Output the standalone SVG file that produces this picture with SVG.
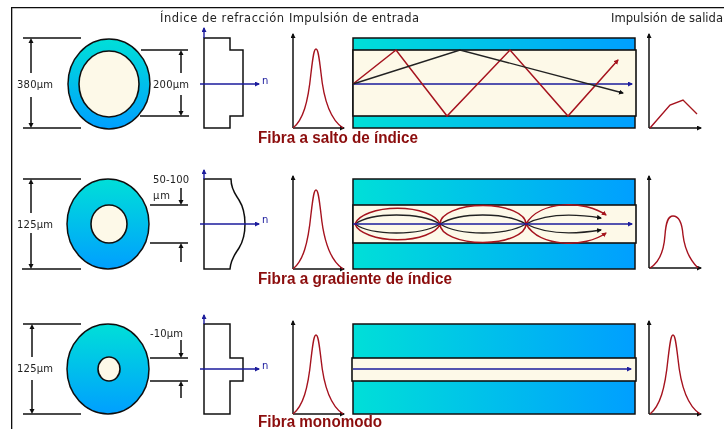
<svg xmlns="http://www.w3.org/2000/svg" width="724" height="429" viewBox="0 0 724 429">
<style>
.ln{fill:none;stroke:#111;stroke-width:1.5}
.dim{fill:none;stroke:#111;stroke-width:1.5}
.ax{fill:none;stroke:#111;stroke-width:1.5;marker-end:url(#k)}
.n{fill:none;stroke:#1a1a9c;stroke-width:1.4;marker-end:url(#b)}
.pulse{fill:none;stroke:#a5121e;stroke-width:1.4}
.clad{stroke:#111;stroke-width:1.5}
.core{fill:#fdf9e8;stroke:#111;stroke-width:1.6}
.red{fill:none;stroke:#a5121e;stroke-width:1.5}
.blk{fill:none;stroke:#222;stroke-width:1.4}
text{font-family:"DejaVu Sans",sans-serif;fill:#222}
.h{font-size:11.5px}
.d{font-size:10px}
.nl{font-size:10px;fill:#1a1a9c}
.t{font-family:"Liberation Sans",Arial,sans-serif;font-weight:bold;font-size:16px;fill:#8b0a0a}
</style>
<defs>
<marker id="k" markerWidth="6" markerHeight="6" refX="4" refY="2.5" orient="auto" markerUnits="userSpaceOnUse"><path d="M0 0L5 2.5L0 5z" fill="#111"/></marker>
<marker id="b" markerWidth="6" markerHeight="6" refX="4" refY="2.5" orient="auto" markerUnits="userSpaceOnUse"><path d="M0 0L5 2.5L0 5z" fill="#1a1a9c"/></marker>
<marker id="r" markerWidth="6" markerHeight="6" refX="4" refY="2.5" orient="auto" markerUnits="userSpaceOnUse"><path d="M0 0L5 2.5L0 5z" fill="#a5121e"/></marker>
<linearGradient id="gv" x1="0" y1="0" x2="0" y2="1"><stop offset="0" stop-color="#00dfd8"/><stop offset="1" stop-color="#009fff"/></linearGradient>
<linearGradient id="gh" x1="0" y1="0" x2="1" y2="0"><stop offset="0" stop-color="#00dfd8"/><stop offset="1" stop-color="#009fff"/></linearGradient>
<filter id="soft" x="0" y="0" width="100%" height="100%"><feGaussianBlur stdDeviation="0.45"/></filter>
<path id="pk" d="M0 0C10 -8 15 -25 18 -55C20 -72 21 -79 23 -79C25 -79 26 -72 28 -55C31 -25 38 -8 50 0"/>
</defs>
<rect width="724" height="429" fill="#fff"/>
<g filter="url(#soft)">
<path id="frame" d="M11 429V7H724" fill="none" stroke="#111" stroke-width="2.6"/>

<g id="headers">
<text class="h" x="160" y="22" textLength="124">Índice de refracción</text>
<text class="h" x="289" y="22" textLength="130">Impulsión de entrada</text>
<text class="h" x="611" y="22" textLength="112" lengthAdjust="spacingAndGlyphs">Impulsión de salida</text>
</g>

<g id="fiber-step-section">
<ellipse class="clad" cx="109" cy="84" rx="41" ry="45" fill="url(#gv)"/>
<ellipse class="core" cx="109" cy="84" rx="30" ry="33"/>
</g>
<g id="fiber-step-dims">
<path class="dim" d="M23 38H81M23 128H81M141 50H188M140 116H189"/>
<path class="dim" d="M31 73V40M31 97V126M181 73V52M181 95V114"/>
<path d="M31 38l-2.5 5h5zM31 128l-2.5 -5h5zM181 50l-2.5 5h5zM181 116l-2.5 -5h5z" fill="#111"/>
<text class="d" x="17" y="88" textLength="36">380µm</text>
<text class="d" x="153" y="88" textLength="36">200µm</text>
</g>
<g id="fiber-step-index">
<path class="ln" d="M204 38H230V50H243V116H230V128H204Z"/>
<path class="n" d="M204 38V28"/>
<path class="n" d="M200 84H259" stroke-width="1.8"/>
<text class="nl" x="262" y="84">n</text>
</g>
<g id="fiber-step-input">
<path class="ax" d="M293 128V34"/><path class="ax" d="M293 128H344"/>
<use href="#pk" class="pulse" x="293" y="128"/>
</g>
<g id="fiber-step-guide">
<rect class="clad" x="353" y="38" width="282" height="90" fill="url(#gh)"/>
<rect class="core" x="353" y="50" width="283" height="66"/>
</g>
<g id="fiber-step-output">
<path class="ax" d="M649 128V34"/><path class="ax" d="M649 128H701"/>
<path class="pulse" d="M650 128L670 105L683 100L697 114"/>
</g>
<text id="label-step" class="t" x="258" y="143" textLength="160" lengthAdjust="spacingAndGlyphs">Fibra a salto de índice</text>

<g id="fiber-graded-section">
<ellipse class="clad" cx="108" cy="224" rx="41" ry="45" fill="url(#gv)"/>
<ellipse class="core" cx="109" cy="224" rx="18" ry="19"/>
</g>
<g id="fiber-graded-dims">
<path class="dim" d="M23 179H81M22 269H81M150 205H188M150 243H188"/>
<path class="dim" d="M31 213V181M31 233V267M181 188V203M181 262V245"/>
<path d="M31 179l-2.5 5h5zM31 269l-2.5 -5h5zM181 205l-2.5 -5h5zM181 243l-2.5 5h5z" fill="#111"/>
<text class="d" x="17" y="228" textLength="36">125µm</text>
<text class="d" x="153" y="183" textLength="36">50-100</text>
<text class="d" x="153" y="199" textLength="17">µm</text>
</g>
<g id="fiber-graded-index">
<path class="ln" d="M204 179H231C231 190 236 195 239 200C244 208 245 215 245 224C245 233 244 240 239 248C236 253 231 258 230 269H204Z"/>
<path class="n" d="M204 179V170"/>
<path class="n" d="M200 224H259"/>
<text class="nl" x="262" y="223">n</text>
</g>
<g id="fiber-graded-input">
<path class="ax" d="M293 269V176"/><path class="ax" d="M293 269H344"/>
<use href="#pk" class="pulse" x="293" y="269"/>
</g>
<g id="fiber-graded-guide">
<rect class="clad" x="353" y="179" width="282" height="90" fill="url(#gh)"/>
<rect class="core" x="353" y="205" width="283" height="38"/>
</g>
<g id="fiber-graded-output">
<path class="ax" d="M649 268V176"/><path class="ax" d="M649 268H701"/>
<path class="pulse" d="M650 268C660 262 664 250 665 235C666 222 668 216 673 216C679 216 682 222 683 235C685 252 692 262 698 268"/>
</g>
<text id="label-graded" class="t" x="258" y="284" textLength="194" lengthAdjust="spacingAndGlyphs">Fibra a gradiente de índice</text>

<g id="fiber-mono-section">
<ellipse class="clad" cx="108" cy="369" rx="41" ry="45" fill="url(#gv)"/>
<ellipse class="core" cx="109" cy="369" rx="11" ry="12"/>
</g>
<g id="fiber-mono-dims">
<path class="dim" d="M23 324H81M23 414H81M150 358H188M150 381H188"/>
<path class="dim" d="M32 357V326M32 380V412M181 340V356M181 398V383"/>
<path d="M32 324l-2.5 5h5zM32 414l-2.5 -5h5zM181 358l-2.5 -5h5zM181 381l-2.5 5h5z" fill="#111"/>
<text class="d" x="17" y="372" textLength="36">125µm</text>
<text class="d" x="150" y="337" textLength="33">-10µm</text>
</g>
<g id="fiber-mono-index">
<path class="ln" d="M204 324H230V358H243V381H230V414H204Z"/>
<path class="n" d="M204 324V315"/>
<path class="n" d="M200 369H259"/>
<text class="nl" x="262" y="369">n</text>
</g>
<g id="fiber-mono-input">
<path class="ax" d="M293 414V321"/><path class="ax" d="M293 414H344"/>
<use href="#pk" class="pulse" x="293" y="414"/>
</g>
<g id="fiber-mono-guide">
<rect class="clad" x="353" y="324" width="282" height="90" fill="url(#gh)"/>
<rect class="core" x="352" y="358" width="284" height="23"/>
</g>
<g id="fiber-mono-output">
<path class="ax" d="M649 414V321"/><path class="ax" d="M649 414H701"/>
<use href="#pk" class="pulse" x="650" y="414"/>
</g>
<text id="label-mono" class="t" x="258" y="426.5" textLength="124" lengthAdjust="spacingAndGlyphs">Fibra monomodo</text>

<g id="connectors">
<path class="n" d="M353 84H632" stroke-width="2"/>
<path class="red" d="M353 84L396 50L447 116L510 50L568 116L618 60" marker-end="url(#r)"/>
<path class="blk" d="M353 84L460 50L623 93" marker-end="url(#k)"/>

<path class="blk" d="M355 224C372 212 420 212 440 224C460 212 505 212 526 224C545 214 570 213 601 218" marker-end="url(#k)"/>
<path class="blk" d="M355 224C372 236 420 236 440 224C460 236 505 236 526 224C545 234 570 235 601 230" marker-end="url(#k)"/>
<path class="red" d="M355 224A43 18.5 0 0 1 440 224A43 18.5 0 0 1 526 224C540 200 585 200 606 215" marker-end="url(#r)"/>
<path class="red" d="M355 224A43 18.5 0 0 0 440 224A43 18.5 0 0 0 526 224C540 248 585 248 606 233" marker-end="url(#r)"/>
<path class="n" d="M353 224H632"/>
<path class="n" d="M353 369H631" stroke-width="1.8"/>
</g>
</g>
</svg>
